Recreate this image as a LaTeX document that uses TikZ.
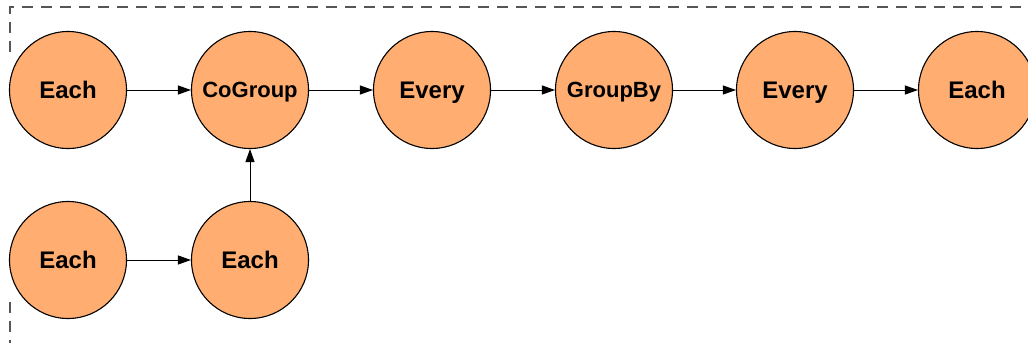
\documentclass[tikz,border=0pt]{standalone}
\usepackage{fontspec}
\setmainfont{Liberation Sans}
\usetikzlibrary{arrows.meta}
\definecolor{opfill}{RGB}{255,173,112}
\definecolor{boxgray}{RGB}{85,85,85}
\tikzset{
  op/.style={circle, draw=black, line width=1.1pt, fill=opfill,
    minimum size=117pt, inner sep=0pt, text height=17.2pt, text depth=0pt,
    font=\fontsize{24}{24}\selectfont\bfseries},
  small/.style={font=\fontsize{22}{22}\selectfont\bfseries, text height=15.8pt},
  flow/.style={-{Triangle[length=13pt,width=9pt]}, line width=1pt},
  cluster/.style={draw=boxgray, line width=1.2pt, dash pattern=on 11pt off 8pt}
}
\begin{document}
\begin{tikzpicture}[x=1pt,y=-1pt]
      \useasboundingbox (0,0) rectangle (1028,343);
      \draw[cluster] (10,52) -- (10,7) -- (1028,7);
      \draw[cluster] (10,302) -- (10,343);
      \draw
        (68,90) node[op] (0){Each}
        (250,90) node[op,small] (1){CoGroup}
        (432,90) node[op] (2){Every}
        (614,90) node[op,small] (3){GroupBy}
        (795,90) node[op] (4){Every}
        (977,90) node[op] (5){Each}
        (68,260) node[op] (6){Each}
        (250,260) node[op] (7){Each};
      \begin{scope}[flow]
        \draw (0) to (1);
        \draw (1) to (2);
        \draw (2) to (3);
        \draw (3) to (4);
        \draw (4) to (5);
        \draw (6) to (7);
        \draw (7) to (1);
      \end{scope}
    \end{tikzpicture}
\end{document}
